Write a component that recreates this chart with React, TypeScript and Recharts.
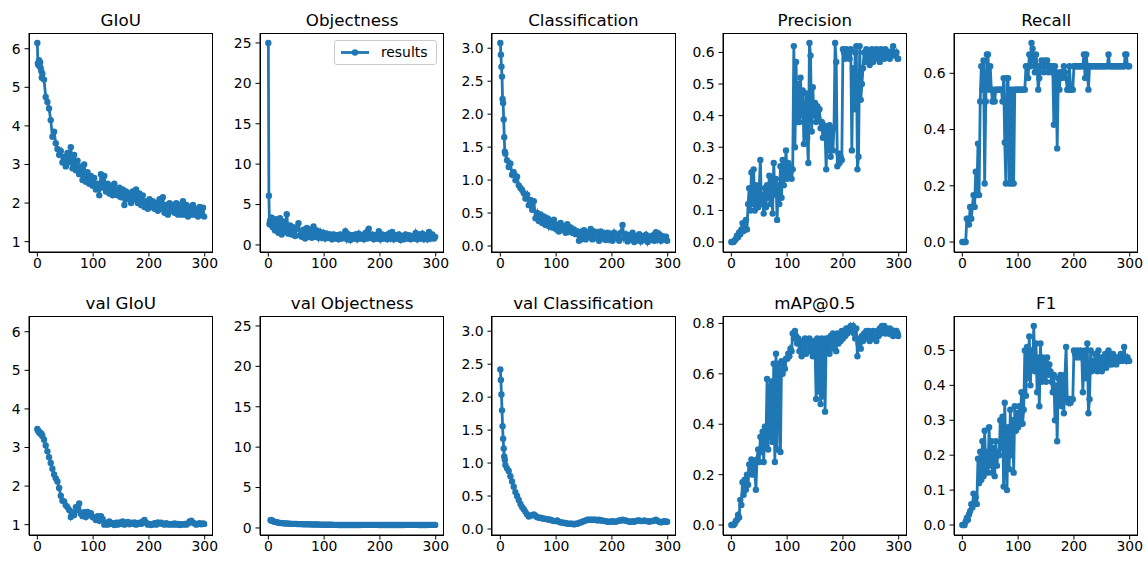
import React from 'react';
import { LineChart, Line, XAxis, YAxis } from 'recharts';

// epochs sampled for the loss curves
const lossEpochs = [
  0, 1, 2, 3, 4, 5, 6, 7, 8, 9,
  12, 15, 18, 21, 24, 27, 30, 33, 36, 39,
  42, 45, 48, 51, 54, 57, 60, 63, 66, 69,
  72, 75, 78, 81, 84, 87, 90, 93, 96, 99,
  102, 105, 108, 111, 114, 117, 120, 123, 126, 129,
  132, 135, 138, 141, 144, 147, 150, 153, 156, 159,
  162, 165, 168, 171, 174, 177, 180, 183, 186, 189,
  192, 195, 198, 201, 204, 207, 210, 213, 216, 219,
  222, 225, 228, 231, 234, 237, 240, 243, 246, 249,
  252, 255, 258, 261, 264, 267, 270, 273, 276, 279,
  282, 285, 288, 291, 294, 297, 299,
];

// epochs sampled for the (noisier) metric curves
const metricEpochs = [
  0, 2, 4, 6, 8, 10, 12, 14, 16, 18,
  20, 22, 24, 26, 28, 30, 32, 34, 36, 38,
  40, 42, 44, 46, 48, 50, 52, 54, 56, 58,
  60, 62, 64, 66, 68, 70, 72, 74, 76, 78,
  80, 82, 84, 86, 88, 90, 92, 94, 96, 98,
  100, 102, 104, 106, 108, 110, 112, 114, 116, 118,
  120, 122, 124, 126, 128, 130, 132, 134, 136, 138,
  140, 142, 144, 146, 148, 150, 152, 154, 156, 158,
  160, 162, 164, 166, 168, 170, 172, 174, 176, 178,
  180, 182, 184, 186, 188, 190, 192, 194, 196, 198,
  200, 202, 204, 206, 208, 210, 212, 214, 216, 218,
  220, 222, 224, 226, 228, 230, 232, 234, 236, 238,
  240, 242, 244, 246, 248, 250, 252, 254, 256, 258,
  260, 262, 264, 266, 268, 270, 272, 274, 276, 278,
  280, 282, 284, 286, 288, 290, 292, 294, 296, 298,
  299,
];

const giou = [
  6.15, 5.62, 5.58, 5.7, 5.55, 5.65, 5.5, 5.42, 5.25, 5.35,
  5.2, 4.75, 4.62, 4.45, 4.15, 3.72, 3.85, 3.55, 3.4, 3.25,
  3.35, 3.05, 3.2, 2.95, 3.3, 3.05, 3.45, 2.9, 3.25, 2.85,
  3.1, 2.75, 2.95, 2.6, 3.0, 2.55, 2.8, 2.5, 2.7, 2.45,
  2.65, 2.35, 2.5, 2.2, 2.75, 2.4, 2.7, 2.3, 2.5, 2.25,
  2.45, 2.2, 2.5, 2.3, 2.2, 2.4, 2.15, 2.35, 1.95, 2.3,
  2.1, 2.25, 2.0, 2.3, 2.1, 2.35, 2.0, 2.25, 1.95, 2.2,
  1.9, 2.05, 1.85, 2.1, 1.9, 2.05, 1.85, 2.0, 1.8, 2.1,
  1.85, 2.15, 1.75, 1.95, 1.7, 2.0, 1.8, 1.95, 1.75, 2.0,
  1.7, 1.95, 1.7, 2.05, 1.7, 1.95, 1.65, 1.9, 1.7, 1.95,
  1.7, 1.85, 1.65, 1.9, 1.7, 1.88, 1.65,
];

const objectness = [
  25, 6.1, 2.6, 3.0, 2.5, 3.4, 2.8, 3.3, 2.2, 3.0,
  1.8, 3.2, 1.5, 3.3, 1.3, 2.9, 1.6, 3.8, 1.4, 2.4,
  1.3, 2.2, 1.1, 2.0, 2.7, 1.2, 1.0, 1.9, 0.8, 2.1,
  1.0, 1.9, 0.9, 2.3, 1.0, 1.8, 0.9, 1.6, 0.9, 1.5,
  0.8, 1.4, 0.9, 1.3, 0.7, 1.3, 0.8, 1.2, 0.7, 1.3,
  0.8, 1.2, 1.7, 0.7, 1.3, 0.6, 1.2, 0.8, 1.3, 0.7,
  1.4, 0.8, 1.2, 0.7, 1.5, 0.8, 2.0, 0.9, 1.3, 0.7,
  1.2, 0.8, 1.7, 0.7, 1.3, 0.8, 1.2, 0.7, 1.4, 0.8,
  1.6, 0.7, 1.2, 0.8, 1.3, 0.6, 1.1, 0.7, 1.3, 0.8,
  1.2, 0.7, 1.1, 0.8, 1.5, 0.7, 1.3, 0.8, 1.4, 0.7,
  1.2, 0.7, 1.6, 0.8, 1.3, 0.8, 1.0,
];

const classification = [
  3.08, 2.9, 2.72, 2.57, 2.23, 2.17, 1.92, 1.65, 1.43, 1.4,
  1.3, 1.2, 1.25, 1.08, 1.12, 1.0, 1.05, 0.92, 0.88, 0.85,
  0.8, 0.72, 0.78, 0.62, 0.7, 0.55, 0.68, 0.42, 0.5, 0.38,
  0.48, 0.35, 0.45, 0.32, 0.42, 0.3, 0.38, 0.28, 0.4, 0.26,
  0.32, 0.22, 0.35, 0.25, 0.3, 0.2, 0.33, 0.22, 0.28, 0.2,
  0.25, 0.18, 0.22, 0.08, 0.2, 0.12, 0.24, 0.1, 0.2, 0.14,
  0.26, 0.1, 0.22, 0.13, 0.2, 0.08, 0.22, 0.12, 0.19, 0.09,
  0.2, 0.1, 0.18, 0.08, 0.2, 0.12, 0.17, 0.08, 0.2, 0.32,
  0.12, 0.18, 0.07, 0.16, 0.1, 0.2, 0.06, 0.15, 0.09, 0.18,
  0.07, 0.15, 0.1, 0.17, 0.06, 0.14, 0.09, 0.16, 0.08, 0.21,
  0.1, 0.18, 0.08, 0.15, 0.1, 0.14, 0.08,
];

const valGiou = [
  3.48, 3.45, 3.42, 3.4, 3.38, 3.36, 3.38, 3.35, 3.33, 3.3,
  3.2, 3.05, 2.9, 2.75, 2.6, 2.45, 2.3, 2.2, 2.12, 1.95,
  1.75, 1.62, 1.6, 1.5, 1.45, 1.38, 1.2, 1.32, 1.25, 1.45,
  1.38, 1.55, 1.28, 1.22, 1.32, 1.2, 1.33, 1.25, 1.3, 1.2,
  1.18, 1.12, 1.22, 1.1, 1.22, 1.15, 1.0, 1.05, 1.0, 1.08,
  1.02, 1.04, 0.99, 1.05, 1.0, 1.06, 1.02, 1.08, 1.0, 1.04,
  1.07, 1.01, 1.05, 1.02, 1.06, 1.0, 1.03, 1.05, 1.02, 1.08,
  1.12, 1.05, 1.0, 1.02, 0.99, 1.01, 1.04, 1.0, 1.06, 1.03,
  1.05, 1.02, 1.0, 1.04, 1.01, 1.0, 1.02, 1.0, 1.03, 1.0,
  1.02, 0.99, 1.01, 1.0, 1.02, 1.0, 1.03, 1.08, 1.1, 1.05,
  1.03, 1.0, 1.02, 1.04, 1.01, 1.03, 1.02,
];

const valObjectness = [
  null, null, null, null, 0.95, 0.98, 0.92, 0.9, 0.85, 0.82,
  0.75, 0.7, 0.65, 0.62, 0.6, 0.58, 0.56, 0.55, 0.54, 0.52,
  0.51, 0.5, 0.5, 0.49, 0.48, 0.48, 0.47, 0.46, 0.46, 0.45,
  0.45, 0.44, 0.44, 0.43, 0.43, 0.42, 0.42, 0.41, 0.41, 0.4,
  0.4, 0.4, 0.39, 0.39, 0.39, 0.38, 0.38, 0.38, 0.37, 0.37,
  0.37, 0.37, 0.36, 0.36, 0.36, 0.36, 0.36, 0.36, 0.37, 0.37,
  0.37, 0.37, 0.38, 0.38, 0.38, 0.38, 0.38, 0.38, 0.38, 0.38,
  0.38, 0.38, 0.37, 0.37, 0.37, 0.37, 0.37, 0.37, 0.37, 0.37,
  0.37, 0.37, 0.37, 0.37, 0.37, 0.37, 0.37, 0.37, 0.38, 0.38,
  0.38, 0.38, 0.38, 0.38, 0.38, 0.38, 0.37, 0.37, 0.37, 0.37,
  0.37, 0.37, 0.38, 0.38, 0.38, 0.38, 0.38,
];

const valClassification = [
  2.42, 2.26, 2.04, 1.8, 1.56, 1.37, 1.22, 1.1, 1.05, 0.97,
  0.92, 0.88, 0.8, 0.72, 0.64, 0.56, 0.5, 0.44, 0.38, 0.33,
  0.3, 0.26, 0.22, 0.19, 0.2, 0.21, 0.22, 0.2, 0.18, 0.17,
  0.17, 0.16, 0.16, 0.15, 0.15, 0.14, 0.14, 0.13, 0.12, 0.12,
  0.13, 0.11, 0.1, 0.1, 0.09, 0.09, 0.08, 0.08, 0.08, 0.08,
  0.07, 0.08, 0.08, 0.09, 0.1, 0.11, 0.12, 0.13, 0.14, 0.14,
  0.14, 0.14, 0.14, 0.14, 0.13, 0.14, 0.13, 0.13, 0.12, 0.12,
  0.11, 0.11, 0.11, 0.12, 0.11, 0.11, 0.12, 0.13, 0.13, 0.14,
  0.13, 0.13, 0.12, 0.11, 0.11, 0.12, 0.11, 0.12, 0.13, 0.13,
  0.12, 0.12, 0.13, 0.12, 0.12, 0.11, 0.12, 0.12, 0.13, 0.14,
  0.12, 0.11, 0.1, 0.11, 0.12, 0.11, 0.11,
];

const precision = [
  0, 0, 0, 0.005, 0.01, 0.02, 0.015, 0.03, 0.025, 0.04,
  0.06, 0.035, 0.05, 0.07, 0.04, 0.12, 0.17, 0.1, 0.22, 0.12,
  0.23, 0.1, 0.18, 0.13, 0.11, 0.17, 0.26, 0.12, 0.15, 0.09,
  0.17, 0.11, 0.18, 0.14, 0.21, 0.12, 0.2, 0.09, 0.25, 0.15,
  0.2, 0.07, 0.18, 0.12, 0.24, 0.14, 0.26, 0.18, 0.22, 0.29,
  0.2, 0.25, 0.21, 0.24, 0.2, 0.23, 0.62, 0.3, 0.57, 0.38,
  0.5, 0.38, 0.52, 0.4, 0.48, 0.31, 0.38, 0.47, 0.33, 0.25,
  0.63, 0.59, 0.35, 0.49, 0.4, 0.44, 0.38, 0.43, 0.39, 0.42,
  0.36, 0.38, 0.33, 0.37, 0.34, 0.23, 0.36, 0.29, 0.37, 0.27,
  0.35, 0.29, 0.36, 0.63, 0.57, 0.24, 0.28, 0.25, 0.27, 0.26,
  0.61, 0.6, 0.58, 0.61, 0.59, 0.6, 0.58, 0.61, 0.29, 0.55,
  0.42, 0.6, 0.62, 0.23, 0.27, 0.62, 0.45, 0.5, 0.55, 0.6,
  0.57, 0.61, 0.58, 0.6, 0.56, 0.59, 0.61, 0.57, 0.6, 0.58,
  0.61, 0.59, 0.6, 0.57, 0.61, 0.59, 0.6, 0.58, 0.61, 0.6,
  0.59, 0.6, 0.58, 0.6, 0.59, 0.62, 0.6, 0.59, 0.6, 0.58,
  0.58,
];

const recall = [
  0, 0, 0, 0, 0.083, 0.083, 0.062, 0.125, 0.083, 0.125,
  0.167, 0.125, 0.25, 0.167, 0.35, 0.167, 0.5, 0.625, 0.542, 0.646,
  0.208, 0.5, 0.667, 0.667, 0.542, 0.625, 0.542, 0.5, 0.542, 0.5,
  0.542, 0.542, 0.542, 0.542, 0.542, 0.542, 0.5, 0.583, 0.354, 0.208,
  0.583, 0.583, 0.208, 0.542, 0.208, 0.542, 0.208, 0.542, 0.542, 0.542,
  0.542, 0.542, 0.542, 0.542, 0.542, 0.542, 0.542, 0.625, 0.625, 0.583,
  0.667, 0.625, 0.708, 0.688, 0.646, 0.604, 0.667, 0.625, 0.542, 0.583,
  0.625, 0.646, 0.625, 0.604, 0.646, 0.625, 0.646, 0.604, 0.625, 0.625,
  0.604, 0.625, 0.417, 0.625, 0.604, 0.333, 0.583, 0.542, 0.604, 0.583,
  0.604, 0.625, 0.604, 0.583, 0.542, 0.542, 0.625, 0.542, 0.542, 0.542,
  0.625, 0.625, 0.625, 0.625, 0.625, 0.625, 0.625, 0.625, 0.625, 0.667,
  0.583, 0.667, 0.625, 0.542, 0.625, 0.625, 0.625, 0.625, 0.625, 0.625,
  0.625, 0.625, 0.625, 0.625, 0.625, 0.625, 0.625, 0.625, 0.625, 0.625,
  0.625, 0.667, 0.625, 0.625, 0.625, 0.625, 0.625, 0.625, 0.625, 0.625,
  0.625, 0.625, 0.625, 0.625, 0.625, 0.625, 0.667, 0.667, 0.625, 0.625,
  0.625,
];

const map05 = [
  0, 0, 0, 0.005, 0.015, 0.02, 0.04, 0.03, 0.1, 0.08,
  0.17, 0.12, 0.18, 0.14, 0.2, 0.16, 0.24, 0.22, 0.26, 0.2,
  0.25, 0.22, 0.14, 0.26, 0.3, 0.25, 0.35, 0.29, 0.37, 0.25,
  0.39, 0.32, 0.58, 0.3, 0.55, 0.35, 0.57, 0.33, 0.64, 0.25,
  0.68, 0.3, 0.64, 0.6, 0.29, 0.65, 0.6, 0.64, 0.62, 0.66,
  0.66, 0.68, 0.67, 0.7, 0.69, 0.76, 0.74, 0.77, 0.75, 0.72,
  0.74, 0.69, 0.73, 0.67, 0.72, 0.7, 0.74, 0.68, 0.73, 0.71,
  0.74, 0.69, 0.72, 0.67, 0.73, 0.7, 0.5, 0.74, 0.53, 0.72,
  0.48, 0.74, 0.51, 0.72, 0.45, 0.74, 0.7, 0.74, 0.68, 0.75,
  0.72, 0.76, 0.7, 0.74, 0.69, 0.76, 0.72, 0.75, 0.73, 0.77,
  0.74, 0.77, 0.75, 0.78, 0.76, 0.78, 0.77, 0.79, 0.78, 0.79,
  0.76, 0.74, 0.78, 0.67, 0.72, 0.74, 0.7, 0.75, 0.73, 0.76,
  0.74, 0.77, 0.75, 0.77, 0.73, 0.76, 0.74, 0.77, 0.75, 0.76,
  0.73, 0.77, 0.75, 0.78, 0.76, 0.79, 0.77, 0.79, 0.76, 0.78,
  0.77, 0.76, 0.78, 0.76, 0.77, 0.75, 0.77, 0.76, 0.77, 0.76,
  0.75,
];

const f1 = [
  0, 0, 0, 0.01, 0.02, 0.015, 0.03, 0.04, 0.06, 0.05,
  0.09, 0.06, 0.08, 0.06, 0.19, 0.12, 0.21, 0.13, 0.24, 0.14,
  0.27, 0.16, 0.21, 0.15, 0.28, 0.17, 0.24, 0.15, 0.22, 0.14,
  0.24, 0.17, 0.21, 0.2, 0.3, 0.22, 0.31, 0.11, 0.35, 0.2,
  0.1, 0.28, 0.16, 0.33, 0.2, 0.3, 0.15, 0.34, 0.27, 0.32,
  0.28, 0.34, 0.3, 0.38, 0.29, 0.33, 0.5, 0.37, 0.51, 0.42,
  0.54, 0.4, 0.5, 0.45, 0.57, 0.44, 0.52, 0.38, 0.48, 0.34,
  0.52, 0.41, 0.48, 0.42, 0.47, 0.41, 0.48, 0.43, 0.46, 0.44,
  0.41, 0.38, 0.43, 0.3, 0.4, 0.24, 0.42, 0.35, 0.43, 0.34,
  0.42, 0.32, 0.43, 0.51, 0.36, 0.35, 0.36, 0.35, 0.36, 0.36,
  0.5, 0.49, 0.48, 0.5, 0.49, 0.48, 0.5, 0.49, 0.38, 0.47,
  0.5, 0.42, 0.52, 0.32, 0.36, 0.5, 0.44, 0.47, 0.45, 0.49,
  0.46, 0.44, 0.5, 0.45, 0.48, 0.44, 0.47, 0.46, 0.49, 0.45,
  0.47, 0.5, 0.46, 0.48, 0.46, 0.49, 0.47, 0.48, 0.46, 0.48,
  0.47, 0.48, 0.49, 0.47, 0.48, 0.51, 0.48, 0.47, 0.48, 0.47,
  0.47,
];

const xTicks = [0, 100, 200, 300];
const ticksGiou = [1, 2, 3, 4, 5, 6];
const ticksObj = [0, 5, 10, 15, 20, 25];
const ticksCls = [0, 0.5, 1, 1.5, 2, 2.5, 3];
const ticksP = [0, 0.1, 0.2, 0.3, 0.4, 0.5, 0.6];
const ticksR = [0, 0.2, 0.4, 0.6];
const ticksMap = [0, 0.2, 0.4, 0.6, 0.8];
const ticksF1 = [0, 0.1, 0.2, 0.3, 0.4, 0.5];

const FONT = '"DejaVu Sans", sans-serif';
const BLUE = '#1f77b4';
const PLOT_W = 183.5;
const PLOT_H = 219;
const COL_X = [29, 260.4, 491.7, 723.1, 954.4];
const ROW_Y = [33.3, 316];
const YW = 44;
const XH = 30;
const MT = 6;
const MR = 6;

// matplotlib-style autoscale with 5% margins
function autoDomain(...arrs: (number | null)[][]): [number, number] {
  const v = arrs.flat().filter((n): n is number => n != null);
  const mn = Math.min(...v);
  const mx = Math.max(...v);
  const r = mx - mn;
  return [mn - 0.05 * r, mx + 0.05 * r];
}

const X_DOMAIN = autoDomain(lossEpochs);

const intFmt = (v: number) => String(v);
const dec1 = (v: number) => v.toFixed(1);

type PanelProps = {
  col: number;
  row: number;
  title: string;
  xs: number[];
  values: (number | null)[];
  domain: [number, number];
  ticks: number[];
  fmt: (v: number) => string;
  legend?: boolean;
};

function Panel({ col, row, title, xs, values, domain, ticks, fmt, legend }: PanelProps) {
  const data = xs.map((x, i) => ({ x, y: values[i] ?? null }));
  const px = COL_X[col];
  const py = ROW_Y[row];
  const tickStyle = { fill: '#000', fontSize: 13.9, fontFamily: FONT };
  return (
    <>
      <div
        style={{
          position: 'absolute',
          left: px,
          top: py - 23,
          width: PLOT_W,
          textAlign: 'center',
          fontFamily: FONT,
          fontSize: 16.7,
          lineHeight: '20px',
          color: '#000',
          whiteSpace: 'nowrap',
        }}
      >
        {title}
      </div>
      <div style={{ position: 'absolute', left: px - YW, top: py - MT }}>
        <LineChart
          width={YW + PLOT_W + MR}
          height={MT + PLOT_H + XH}
          data={data}
          margin={{ top: MT, right: MR, left: 0, bottom: 0 }}
        >
          <XAxis
            dataKey="x"
            type="number"
            domain={X_DOMAIN}
            ticks={xTicks}
            interval={0}
            allowDataOverflow
            height={XH}
            stroke="#000"
            tickSize={4.5}
            tickMargin={2}
            tick={tickStyle}
          />
          <YAxis
            type="number"
            domain={domain}
            ticks={ticks}
            interval={0}
            allowDataOverflow
            width={YW}
            stroke="#000"
            tickSize={4.5}
            tickMargin={4}
            tick={tickStyle}
            tickFormatter={fmt}
          />
          <Line
            type="linear"
            dataKey="y"
            stroke={BLUE}
            strokeWidth={2.8}
            dot={{ r: 3.2, fill: BLUE, stroke: BLUE, strokeWidth: 0 }}
            activeDot={false}
            isAnimationActive={false}
            connectNulls={false}
          />
        </LineChart>
      </div>
      {/* axes frame (top and right spines) */}
      <div
        style={{
          position: 'absolute',
          left: px - 0.5,
          top: py - 0.5,
          width: PLOT_W + 1,
          height: PLOT_H + 1,
          border: '1px solid #000',
          boxSizing: 'border-box',
          pointerEvents: 'none',
        }}
      />
      {legend && (
        <div
          style={{
            position: 'absolute',
            left: px + PLOT_W - 7 - 103,
            top: py + 7,
            width: 101,
            height: 23,
            border: '1px solid #cccccc',
            borderRadius: 3,
            background: 'rgba(255,255,255,0.8)',
            fontFamily: FONT,
            fontSize: 13.9,
            color: '#000',
          }}
        >
          <svg width={40} height={23} style={{ position: 'absolute', left: 0, top: 0 }}>
            <line x1={6} y1={11.5} x2={34} y2={11.5} stroke={BLUE} strokeWidth={2.8} />
            <circle cx={20} cy={11.5} r={3.2} fill={BLUE} />
          </svg>
          <span style={{ position: 'absolute', left: 46, top: 2, lineHeight: '18px' }}>results</span>
        </div>
      )}
    </>
  );
}

export default function App() {
  const dGiou = autoDomain(giou, valGiou);
  const dObj = autoDomain(objectness, valObjectness);
  const dCls = autoDomain(classification, valClassification);
  return (
    <div
      style={{
        position: 'absolute',
        left: 0,
        top: 0,
        width: 1148,
        height: 561,
        background: '#fff',
        overflow: 'hidden',
      }}
    >
      <Panel col={0} row={0} title="GIoU" xs={lossEpochs} values={giou} domain={dGiou} ticks={ticksGiou} fmt={intFmt} />
      <Panel col={1} row={0} title="Objectness" xs={lossEpochs} values={objectness} domain={dObj} ticks={ticksObj} fmt={intFmt} legend />
      <Panel col={2} row={0} title="Classification" xs={lossEpochs} values={classification} domain={dCls} ticks={ticksCls} fmt={dec1} />
      <Panel col={3} row={0} title="Precision" xs={metricEpochs} values={precision} domain={autoDomain(precision)} ticks={ticksP} fmt={dec1} />
      <Panel col={4} row={0} title="Recall" xs={metricEpochs} values={recall} domain={autoDomain(recall)} ticks={ticksR} fmt={dec1} />
      <Panel col={0} row={1} title="val GIoU" xs={lossEpochs} values={valGiou} domain={dGiou} ticks={ticksGiou} fmt={intFmt} />
      <Panel col={1} row={1} title="val Objectness" xs={lossEpochs} values={valObjectness} domain={dObj} ticks={ticksObj} fmt={intFmt} />
      <Panel col={2} row={1} title="val Classification" xs={lossEpochs} values={valClassification} domain={dCls} ticks={ticksCls} fmt={dec1} />
      <Panel col={3} row={1} title="mAP@0.5" xs={metricEpochs} values={map05} domain={autoDomain(map05)} ticks={ticksMap} fmt={dec1} />
      <Panel col={4} row={1} title="F1" xs={metricEpochs} values={f1} domain={autoDomain(f1)} ticks={ticksF1} fmt={dec1} />
    </div>
  );
}
